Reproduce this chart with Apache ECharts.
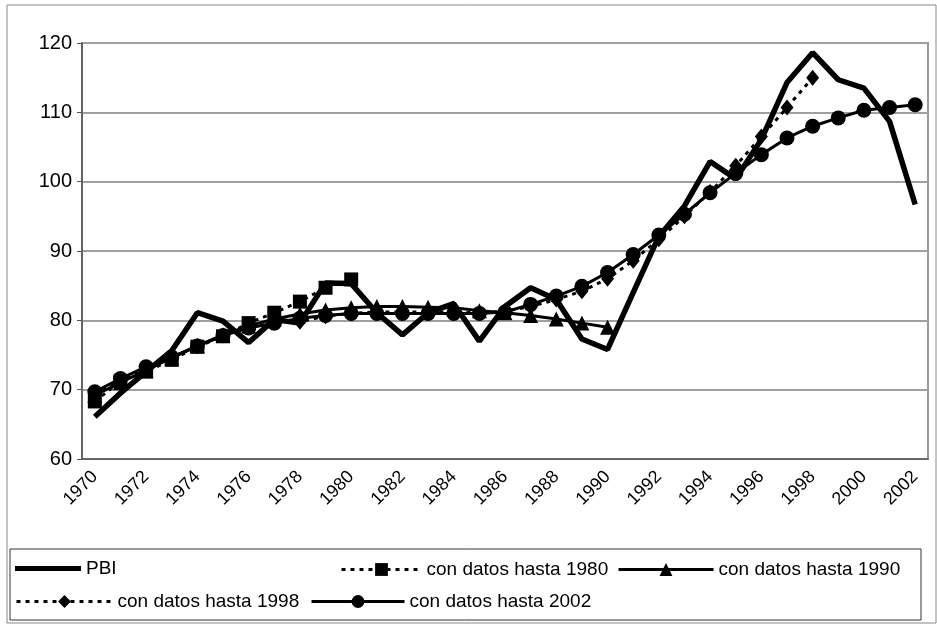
<!DOCTYPE html>
<html style="height: 100%">
<head>
    <meta charset="utf-8">
    <title>PBI y tendencias</title>
</head>
<body style="margin: 0; background: #fff">
<div id="container" style="width: 937px; height: 624px"></div>

<script src="https://cdn.jsdelivr.net/npm/echarts@6/dist/echarts.min.js" type="text/javascript"></script>

<script type="text/javascript">
    // years on the x axis
    var years = [];
    for (var y = 1970; y <= 2002; y++) years.push(String(y));

    var yTicks = [60, 70, 80, 90, 100, 110, 120];

    // PBI (actual)
    var pbi = [66.1, 69.5, 72.6, 75.6, 81.1, 79.9, 76.8, 80.1, 79.6, 85.4, 85.3,
        81.1, 77.9, 81.1, 82.4, 77.0, 82.0, 84.7, 83.0, 77.3, 75.8,
        84.0, 92.1, 96.5, 102.9, 100.4, 106.1, 114.3, 118.6, 114.7, 113.5, 108.7, 96.7];

    // trend estimated with data up to 1980
    var hasta1980 = [68.3, 71.2, 72.6, 74.3, 76.2, 77.7, 79.6, 81.1, 82.7, 84.7, 85.9];

    // trend with data up to 1990
    var hasta1990 = [69.2, 71.0, 72.8, 74.6, 76.3, 77.9, 79.2, 80.2, 80.9, 81.5, 81.8,
        82.0, 82.0, 81.9, 81.8, 81.4, 81.1, 80.7, 80.2, 79.6, 79.0];

    // trend with data up to 1998
    var hasta1998 = [69.3, 71.2, 72.9, 74.6, 76.3, 77.8, 79.0, 79.6, 79.8, 80.6, 81.0,
        81.2, 81.2, 81.2, 81.2, 81.1, 81.3, 82.0, 83.0, 84.2, 86.0,
        88.6, 91.7, 95.0, 98.5, 102.3, 106.5, 110.7, 115.0];

    // trend with data up to 2002
    var hasta2002 = [69.7, 71.6, 73.3, 74.7, 76.3, 77.8, 78.9, 79.6, 80.3, 80.7, 81.0,
        81.0, 81.0, 81.0, 81.0, 81.0, 81.2, 82.3, 83.5, 84.9, 86.9,
        89.5, 92.3, 95.3, 98.4, 101.2, 103.9, 106.3, 108.0, 109.2, 110.3, 110.7, 111.1];

    var names = ['PBI', 'con datos hasta 1980', 'con datos hasta 1990',
        'con datos hasta 1998', 'con datos hasta 2002'];

    var dom = document.getElementById("container");
    var myChart = echarts.init(dom);

    var font = 'Liberation Sans, Arial, sans-serif';
    var legendText = {fontFamily: font, fontSize: 19, color: '#000'};

    function legendAt(name, left, top, w, icon, h) {
        var item = {name: name};
        if (icon) item.icon = icon;
        return {
            data: [item], left: left, top: top, itemWidth: w, itemHeight: h || 16,
            padding: 0, textStyle: legendText, selectedMode: false,
            lineStyle: {width: 3}
        };
    }

    var option = {
        backgroundColor: '#fff',
        animation: false,
        graphic: [
            {
                type: 'rect', shape: {x: 7, y: 5, width: 929, height: 618},
                style: {fill: 'none', stroke: '#888', lineWidth: 1}
            },
            {
                type: 'rect', shape: {x: 10, y: 549, width: 911, height: 71},
                style: {fill: 'none', stroke: '#333', lineWidth: 1}
            }
        ],
        legend: [
            legendAt(names[0], 15, 559, 66, 'rect', 5),
            legendAt(names[1], 340, 560, 80),
            legendAt(names[2], 617, 560, 95),
            legendAt(names[3], 15, 592, 96),
            legendAt(names[4], 310, 592, 93)
        ],
        grid: {
            left: 82, right: 9, top: 43, bottom: 165,
            show: true, borderColor: '#999', borderWidth: 2
        },
        xAxis: {
            type: 'category',
            data: years,
            boundaryGap: true,
            axisLine: {lineStyle: {color: '#555', width: 1.5}},
            axisTick: {interval: 0, length: 5, lineStyle: {color: '#555'}},
            axisLabel: {
                interval: 1, rotate: 45, margin: 15,
                fontFamily: font, fontSize: 18, color: '#000'
            }
        },
        yAxis: {
            type: 'value',
            min: yTicks[0], max: yTicks[yTicks.length - 1], interval: 10,
            axisLine: {show: true, lineStyle: {color: '#555', width: 1.5}},
            axisTick: {show: true, length: 5, lineStyle: {color: '#555'}},
            axisLabel: {fontFamily: font, fontSize: 20, color: '#000', margin: 10},
            splitLine: {lineStyle: {color: '#a0a0a0', width: 2}}
        },
        series: [
            {
                name: names[0], type: 'line', data: pbi,
                symbol: 'none', color: '#000',
                lineStyle: {color: '#000', width: 5.5}
            },
            {
                name: names[1], type: 'line', data: hasta1980,
                symbol: 'rect', symbolSize: 14, showAllSymbol: true, color: '#000',
                itemStyle: {color: '#000'},
                lineStyle: {color: '#000', width: 3, type: [4, 5]}
            },
            {
                name: names[2], type: 'line', data: hasta1990,
                symbol: 'triangle', symbolSize: 15, showAllSymbol: true, color: '#000',
                itemStyle: {color: '#000'},
                lineStyle: {color: '#000', width: 3}
            },
            {
                name: names[3], type: 'line', data: hasta1998,
                symbol: 'diamond', symbolSize: [13, 16], showAllSymbol: true, color: '#000',
                itemStyle: {color: '#000'},
                lineStyle: {color: '#000', width: 3, type: [4, 5]}
            },
            {
                name: names[4], type: 'line', data: hasta2002,
                symbol: 'circle', symbolSize: 15, showAllSymbol: true, color: '#000',
                itemStyle: {color: '#000'},
                lineStyle: {color: '#000', width: 3}
            }
        ]
    };

    myChart.setOption(option);
</script>
</body>
</html>
